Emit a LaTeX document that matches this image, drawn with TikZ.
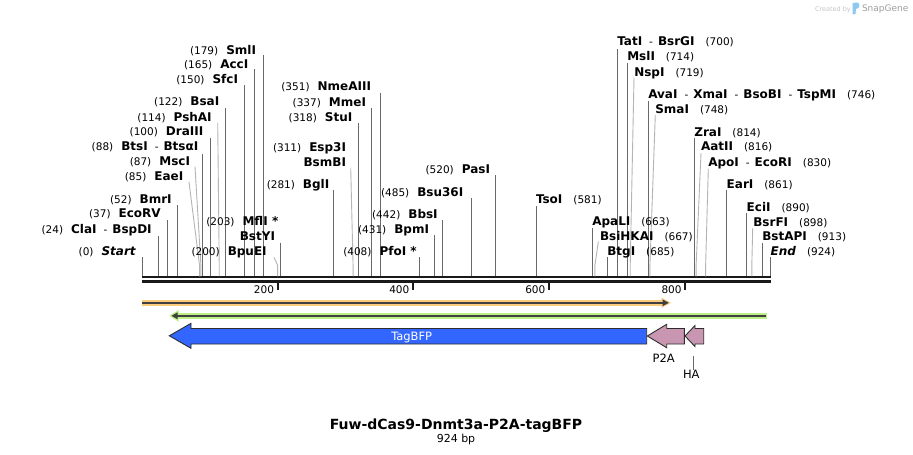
\documentclass[tikz,border=0pt]{standalone}
\usepackage{fontspec}
\setmainfont{DejaVu Sans}
\definecolor{cutc}{RGB}{105,105,105}
\definecolor{cutl}{RGB}{180,180,180}
\definecolor{barc}{RGB}{25,25,25}
\definecolor{orgL}{RGB}{250,202,125}
\definecolor{grnL}{RGB}{188,240,135}
\definecolor{darkl}{RGB}{64,64,64}
\definecolor{bfp}{RGB}{51,102,255}
\definecolor{pinkf}{RGB}{201,150,178}
\definecolor{outl}{RGB}{45,45,45}
\definecolor{sglogo}{RGB}{140,200,240}
\newcommand{\nb}[1]{{\fontsize{10.5}{12}\selectfont(#1)}}
\newcommand{\nm}[1]{{\fontsize{12}{14}\selectfont\bfseries #1}}
\newcommand{\dd}{\hspace{7pt}{\fontsize{10.5}{12}\selectfont -}\hspace{5pt}}
\newcommand{\gl}{\hspace{8pt}}
\newcommand{\gr}{\hspace{11pt}}
% left label: name, xr, yc, text, xa, ya, bp, style
\newcommand{\Lcut}[8]{%
  \node[lbl, anchor=base east] (#1) at (#2,#3+4.2) {#4};
  \coordinate (#1-a) at (#5,#6);
  \coordinate (#1-s) at ({141.8+0.6793*#7},276.3);
  \ifx s#8\draw[cutline] (#1-a) -- (#1-a |- #1-s);
  \else\draw[cutlight] (#1-a) -- ([yshift=11pt]#1-s) -- (#1-s);\fi}
\newcommand{\Rcut}[8]{%
  \node[lbl, anchor=base west] (#1) at (#2,#3+4.2) {#4};
  \coordinate (#1-a) at (#5,#6);
  \coordinate (#1-s) at ({141.8+0.6793*#7},276.3);
  \ifx s#8\draw[cutline] (#1-a) -- (#1-a |- #1-s);
  \else\draw[cutlight] (#1-a) -- ([yshift=11pt]#1-s) -- (#1-s);\fi}
\begin{document}
\begin{tikzpicture}[x=1pt,y=-1pt,
  lbl/.style={inner sep=0pt, outer sep=0pt},
  cutline/.style={draw=cutc, line width=0.9pt},
  cutlight/.style={draw=cutl, line width=0.9pt},
  barline/.style={draw=barc, line width=2.4pt},
  tickline/.style={draw=barc, line width=1.8pt},
  ticklbl/.style={inner sep=0pt, anchor=base east, font=\fontsize{10.5}{12}\selectfont},
  feat/.style={draw=outl, line width=0.9pt, line join=miter},
  flbl/.style={inner sep=0pt, anchor=base, font=\fontsize{11.5}{13}\selectfont}]
\useasboundingbox (0,0) rectangle (913,455);
\fill[white] (0,0) rectangle (913,455);

% watermark
\node[lbl, anchor=base west, text=gray!45, font=\fontsize{6.5}{8}\selectfont] (cby) at (815,11) {Created by};
\fill[sglogo] (852.5,3) -- (857.5,2.5) .. controls (860,3) and (860,8) .. (857.5,8.5) -- (856,8.5) -- (855.5,14) -- (852.5,14.5) -- cycle;
\node[lbl, anchor=base west, text=gray!75, font=\fontsize{9}{10}\selectfont] (sg) at (862,11.5) {SnapGene};

% sequence bar
\coordinate (barL1) at (142,277.2); \coordinate (barR1) at (771,277.2);
\coordinate (barL2) at (142,281.4); \coordinate (barR2) at (771,281.4);
\draw[barline] (barL1) -- (barR1);
\draw[barline] (barL2) -- (barR2);

% ticks
\foreach \t/\xx in {200/277.7, 400/413, 600/549, 800/685.3}{
  \coordinate (tk\t a) at (\xx,282.8);
  \coordinate (tk\t b) at (\xx,289.5);
  \draw[tickline] (tk\t a) -- (tk\t b);
  \node[ticklbl] (tl\t) at (\xx-3.5,293.3) {\t};
}

% left-side labels
\Lcut{smlI}{256}{50}{\nb{179}\gl\nm{SmlI}}{263.3}{55}{179}{s}
\Lcut{accI}{248.3}{64.3}{\nb{165}\gl\nm{AccI}}{254.3}{69.3}{165}{s}
\Lcut{sfcI}{238}{79}{\nb{150}\gl\nm{SfcI}}{244.7}{85}{150}{s}
\Lcut{bsaI}{219.3}{101.3}{\nb{122}\gl\nm{BsaI}}{225.3}{108}{122}{s}
\Lcut{pshAI}{211.7}{117.3}{\nb{114}\gl\nm{PshAI}}{217.7}{122.7}{114}{l}
\Lcut{draIII}{203.3}{131}{\nb{100}\gl\nm{DraIII}}{210.3}{137.7}{100}{s}
\Lcut{btsI}{198.3}{146.7}{\nb{88}\gl\nm{BtsI}\dd\nm{BtsαI}}{202.7}{154}{88}{s}
\Lcut{mscI}{190}{161.7}{\nb{87}\gl\nm{MscI}}{195}{166.7}{87}{l}
\Lcut{eaeI}{183.3}{176.7}{\nb{85}\gl\nm{EaeI}}{189}{182}{85}{l}
\Lcut{bmrI}{171.7}{199}{\nb{52}\gl\nm{BmrI}}{177.3}{205}{52}{s}
\Lcut{ecoRV}{160.7}{213.3}{\nb{37}\gl\nm{EcoRV}}{167.3}{220}{37}{s}
\Lcut{claI}{151.7}{229.3}{\nb{24}\gl\nm{ClaI}\dd\nm{BspDI}}{158.3}{236}{24}{s}
\Lcut{start}{135.7}{251.7}{\nb{0}\gl\nm{\itshape Start}}{142.7}{257.3}{0}{s}
\Lcut{bpuEI}{266.7}{251.7}{\nb{200}\gl\nm{BpuEI}}{274}{257.3}{200}{l}
\node[lbl, anchor=base east] (mflI) at (278.3,221.7+4.2) {\nb{203}\gl\nm{MflI *}};
\Lcut{bstYI}{275}{236.7}{\nm{BstYI}}{280.7}{242.7}{203}{s}
\Lcut{bglI}{329.3}{184}{\nb{281}\gl\nm{BglI}}{333.3}{190}{281}{s}
\Lcut{nmeAIII}{371}{86.7}{\nb{351}\gl\nm{NmeAIII}}{380.3}{92.7}{351}{s}
\Lcut{mmeI}{366}{102.3}{\nb{337}\gl\nm{MmeI}}{371.3}{108.3}{337}{s}
\Lcut{stuI}{352.3}{117.7}{\nb{318}\gl\nm{StuI}}{358.3}{123.3}{318}{s}
\node[lbl, anchor=base east] (esp3I) at (346,147.3+4.2) {\nb{311}\gl\nm{Esp3I}};
\Lcut{bsmBI}{346}{162.3}{\nm{BsmBI}}{350.7}{168.3}{311}{l}
\Lcut{pasI}{490}{169}{\nb{520}\gl\nm{PasI}}{495.7}{175.3}{520}{s}
\Lcut{bsu36I}{463.3}{192.3}{\nb{485}\gl\nm{Bsu36I}}{471.3}{198.3}{485}{s}
\Lcut{bbsI}{437.7}{214}{\nb{442}\gl\nm{BbsI}}{442.7}{220}{442}{s}
\Lcut{bpmI}{429}{229}{\nb{431}\gl\nm{BpmI}}{434.3}{235}{431}{s}
\Lcut{pfoI}{416.7}{251.7}{\nb{408}\gl\nm{PfoI *}}{419.3}{257.3}{408}{s}

% right-side labels
\Rcut{tatI}{617.3}{41.7}{\nm{TatI}\dd\nm{BsrGI}\gr\nb{700}}{617.3}{49}{700}{s}
\Rcut{mslI}{627.3}{56.7}{\nm{MslI}\gr\nb{714}}{627.3}{63.3}{714}{s}
\Rcut{nspI}{634.3}{72.3}{\nm{NspI}\gr\nb{719}}{634}{77.7}{719}{l}
\Rcut{avaI}{648.3}{94}{\nm{AvaI}\dd\nm{XmaI}\dd\nm{BsoBI}\dd\nm{TspMI}\gr\nb{746}}{648.3}{100.7}{746}{s}
\Rcut{smaI}{655.3}{109}{\nm{SmaI}\gr\nb{748}}{655.3}{115}{748}{l}
\Rcut{zraI}{694.3}{132}{\nm{ZraI}\gr\nb{814}}{694.3}{138.3}{814}{s}
\Rcut{aatII}{701}{146.7}{\nm{AatII}\gr\nb{816}}{701}{153}{816}{l}
\Rcut{apoI}{708.3}{162.3}{\nm{ApoI}\dd\nm{EcoRI}\gr\nb{830}}{708.3}{169}{830}{l}
\Rcut{earI}{726.7}{184}{\nm{EarI}\gr\nb{861}}{726.7}{190}{861}{s}
\Rcut{eciI}{746.7}{207.3}{\nm{EciI}\gr\nb{890}}{746.7}{213.3}{890}{s}
\Rcut{bsrFI}{753.3}{222.3}{\nm{BsrFI}\gr\nb{898}}{752.7}{228.3}{898}{l}
\Rcut{bstAPI}{762.3}{236.7}{\nm{BstAPI}\gr\nb{913}}{762.3}{243.3}{913}{s}
\Rcut{end}{770.7}{251.7}{\nm{\itshape End}\gr\nb{924}}{770.7}{257.3}{924}{s}
\Rcut{tsoI}{536}{199.3}{\nm{TsoI}\gr\nb{581}}{536}{206}{581}{s}
\Rcut{apaLI}{592.3}{221.7}{\nm{ApaLI}\gr\nb{663}}{592.3}{228.3}{663}{s}
\Rcut{bsiHKAI}{600}{236.7}{\nm{BsiHKAI}\gr\nb{667}}{598.3}{241.7}{667}{l}
\Rcut{btgI}{607.3}{251.7}{\nm{BtgI}\gr\nb{685}}{607.3}{257.3}{685}{s}

% orange forward feature
\fill[orgL] (142,300) rectangle (664,305.6);
\fill[orgL] (661.5,297.8) -- (671,302.8) -- (661.5,307.8) -- cycle;
\coordinate (orgS) at (142,302.8); \coordinate (orgE) at (665,302.8);
\draw[darkl, line width=1.8pt] (orgS) -- (orgE);
\fill[darkl] (662.5,299.4) -- (668.8,302.8) -- (662.5,306.2) -- cycle;

% green reverse feature
\fill[grnL] (175,312.6) rectangle (766.7,319);
\fill[grnL] (178.5,310) -- (169.3,315.8) -- (178.5,321.6) -- cycle;
\coordinate (grnS) at (766,315.8); \coordinate (grnE) at (175,315.8);
\draw[darkl, line width=1.8pt] (grnS) -- (grnE);
\fill[darkl] (177.5,312.4) -- (171.5,315.8) -- (177.5,319.2) -- cycle;

% TagBFP
\filldraw[feat, fill=bfp] (169.3,335.8) -- (191,323.3) -- (191,328.5) -- (646.7,328.5) -- (646.7,344) -- (191,344) -- (191,348.3) -- cycle;
\node[flbl, text=white] (tagbfp) at (411.7,340.3) {TagBFP};
% P2A
\filldraw[feat, fill=pinkf] (647.3,336) -- (666.7,324.3) -- (666.7,328.5) -- (684.3,328.5) -- (684.3,344) -- (666.7,344) -- (666.7,347.7) -- cycle;
\node[flbl] (p2a) at (663.8,362) {P2A};
% HA
\filldraw[feat, fill=pinkf] (685,336) -- (695,325.5) -- (695,328.5) -- (703.7,328.5) -- (703.7,344) -- (695,344) -- (695,346.5) -- cycle;
\node[flbl] (ha) at (691.3,378.2) {HA};
\coordinate (haTop) at (693.7,355.7);
\draw[cutc, line width=0.8pt] (haTop) -- (haTop |- ha.north);

% title
\node[inner sep=0pt, anchor=base, font=\fontsize{14}{16}\selectfont\bfseries] (title) at (456,429.2) {Fuw-dCas9-Dnmt3a-P2A-tagBFP};
\node[inner sep=0pt, anchor=base, font=\fontsize{11}{13}\selectfont] (bp) at (456,442.8) {924 bp};
\end{tikzpicture}
\end{document}
